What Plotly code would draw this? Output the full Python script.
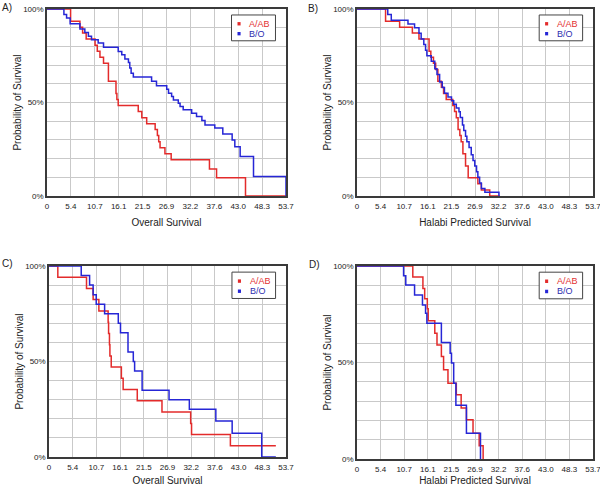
import plotly.graph_objects as go

# ---------------- data ----------------
series_names = ["A/AB", "B/O"]
panel_labels = ["A)", "B)", "C)", "D)"]
x_titles = ["Overall Survival", "Halabi Predicted Survival", "Overall Survival", "Halabi Predicted Survival"]
y_title = "Probability of Survival"
x_tick_vals = [0, 5.37, 10.74, 16.11, 21.48, 26.85, 32.22, 37.59, 42.96, 48.33, 53.7]
x_tick_text = ["0", "5.4", "10.7", "16.1", "21.5", "26.9", "32.2", "37.6", "43.0", "48.3", "53.7"]
y_tick_vals = [0, 10, 20, 30, 40, 50, 60, 70, 80, 90, 100]
y_tick_text = ["0%", "", "", "", "", "50%", "", "", "", "", "100%"]

# Panel A: overall survival
A_red_t = [0, 5.3, 7.4, 8.0, 8.8, 10.8, 11.3, 11.9, 12.7, 13.8, 15.5, 15.7, 16.0, 20.5, 21.3,
           22.4, 24.3, 24.8, 25.1, 25.4, 26.5, 27.9, 36.5, 38.1, 44.6, 53.7]
A_red_s = [100, 93.5, 90.3, 87.1, 83.9, 80.6, 77.4, 74.2, 71.0, 61.3, 54.8, 51.6, 48.4, 45.2, 41.9,
           38.7, 35.5, 32.3, 29.0, 25.8, 22.6, 19.4, 14.5, 9.7, 0, 0]
A_blue_t = [0, 3.8, 4.4, 5.2, 7.4, 8.5, 9.3, 10.0, 11.5, 12.7, 16.0, 16.8, 17.5, 18.3, 18.6, 18.9,
            19.4, 23.5, 24.6, 26.9, 27.3, 28.0, 28.4, 29.5, 29.9, 30.6, 32.5, 33.6, 34.8, 35.5,
            37.7, 39.5, 41.6, 42.2, 43.4, 46.4, 53.7]
A_blue_s = [100, 97.0, 95.2, 92.1, 89.3, 87.5, 85.4, 83.6, 81.8, 79.6, 77.3, 75.5, 73.2, 71.4, 68.4, 65.7,
            63.6, 61.3, 58.9, 57.1, 55.0, 53.2, 51.4, 49.6, 47.9, 46.1, 44.3, 42.5, 40.4, 38.0,
            36.3, 33.2, 30.0, 26.4, 21.1, 10.4, 0]

# Panel B: Halabi predicted survival
B_red_t = [0, 6.5, 9.7, 12.6, 14.1, 16.4, 16.8, 17.4, 17.9, 18.4, 19.2, 19.7, 20.3, 21.8, 22.2,
           22.6, 23.0, 23.4, 23.7, 24.1, 24.7, 25.3, 27.5, 28.3, 30.2, 32.5]
B_red_s = [100, 93.5, 90.3, 87.1, 83.9, 77.4, 74.2, 71.0, 67.7, 61.3, 58.1, 54.8, 51.6, 48.4, 45.2,
           41.9, 35.5, 32.3, 29.0, 22.6, 16.1, 9.7, 6.5, 3.2, 0, 0]
B_blue_t = [0, 7.0, 7.8, 11.6, 13.1, 14.1, 14.6, 15.2, 15.6, 15.9, 16.9, 17.7, 18.2, 18.8, 19.4,
            19.9, 20.7, 21.5, 22.0, 22.6, 23.2, 23.5, 24.0, 24.3, 24.7, 25.0, 25.5, 26.0, 26.4,
            26.8, 27.2, 27.5, 27.9, 28.3, 29.1, 32.3]
B_blue_s = [100, 97, 94, 92, 90, 87, 84, 81, 78, 75, 72, 68, 65, 61, 58,
            55, 53, 51, 49, 47, 45, 42, 38, 35, 32, 29, 26, 22, 19,
            16, 13, 10, 7, 4, 2, 0]

# Panel C: overall survival
C_red_t = [0, 2.0, 8.5, 10.0, 11.3, 13.4, 13.5, 13.7, 13.8, 14.1, 16.4, 16.8, 20.0, 25.6, 32.1,
           32.3, 41.1, 51.4]
C_red_s = [100, 94.1, 88.2, 82.4, 76.5, 70.6, 64.7, 58.8, 52.9, 47.1, 41.2, 35.3, 29.4, 23.5, 17.6,
           11.8, 5.9, 5.9]
C_blue_t = [0, 7.3, 9.2, 10.0, 10.7, 12.6, 15.7, 16.2, 17.9, 19.1, 19.4, 21.1, 27.2, 31.8, 37.8,
            41.5, 48.2, 51.4]
C_blue_s = [100, 95.0, 90.0, 85.0, 80.0, 75.0, 70.0, 65.0, 55.0, 50.0, 45.0, 35.0, 30.0, 25.0, 18.8,
            12.5, 0, 0]

# Panel D: Halabi predicted survival
D_red_t = [0, 12.7, 15.0, 15.4, 16.0, 16.2, 17.7, 18.2, 19.2, 19.7, 20.7, 22.6, 23.7, 24.9, 26.4,
           27.8, 28.7]
D_red_s = [100, 94.3, 88.4, 83.0, 77.8, 71.6, 65.2, 59.1, 53.1, 46.2, 39.3, 33.3, 26.4, 20.3, 13.4,
           6.9, 0]
D_blue_t = [0, 10.6, 11.1, 13.1, 14.9, 15.6, 15.9, 19.2, 21.2, 21.5, 22.0, 22.5, 24.9, 28.1]
D_blue_s = [100, 95.0, 90.2, 85.0, 79.8, 75.5, 70.3, 60.3, 54.8, 49.7, 39.3, 27.8, 13.4, 0]

panels = [
    (A_red_t, A_red_s, A_blue_t, A_blue_s),
    (B_red_t, B_red_s, B_blue_t, B_blue_s),
    (C_red_t, C_red_s, C_blue_t, C_blue_s),
    (D_red_t, D_red_s, D_blue_t, D_blue_s),
]

# ---------------- style ----------------
W, H = 600, 486
RED = "#e32b2b"
BLUE = "#2626d6"
RED_TXT = "#e33030"
BLUE_TXT = "#2d2db0"
FONT = "Liberation Sans, Arial, sans-serif"
# plot areas in pixels: (left, right, top, bottom)
boxes = [(47, 286, 9, 196), (357, 593, 9, 196), (49, 286, 266, 457), (357, 593, 266, 459)]
label_pos = [(0, 0), (306, 1), (0, 256), (307, 257)]

fig = go.Figure()
layout = dict(
    width=W, height=H,
    margin=dict(l=0, r=0, t=0, b=0),
    paper_bgcolor="white", plot_bgcolor="white",
    showlegend=False,
    font=dict(family=FONT, color="#222"),
)
shapes = []
annotations = []

for i, (rt, rs, bt, bs) in enumerate(panels):
    n = "" if i == 0 else str(i + 1)
    xa, ya = "x" + n, "y" + n
    l, r, t, b = boxes[i]
    xdom = [l / W, r / W]
    ydom = [1 - b / H, 1 - t / H]
    fig.add_trace(go.Scatter(x=rt, y=rs, mode="lines", line=dict(color=RED, width=1.5, shape="hv"),
                             name=series_names[0], xaxis=xa, yaxis=ya))
    fig.add_trace(go.Scatter(x=bt, y=bs, mode="lines", line=dict(color=BLUE, width=1.5, shape="hv"),
                             name=series_names[1], xaxis=xa, yaxis=ya))
    layout["xaxis" + n] = dict(
        domain=xdom, anchor=ya, range=[0, 53.7], tickvals=x_tick_vals, ticktext=x_tick_text,
        showgrid=True, gridcolor="#c9c9c9", gridwidth=1, zeroline=False,
        showline=True, mirror=True, linecolor="#3a3a3a", linewidth=1.5,
        ticks="", tickfont=dict(size=8, color="#222"), layer="below traces",
        ticklabelstandoff=2, ticklabeloverflow="allow",
        title=dict(text=x_titles[i], font=dict(size=10, color="#222"), standoff=9),
        automargin=False, fixedrange=True,
    )
    layout["yaxis" + n] = dict(
        domain=ydom, anchor=xa, range=[0, 100], tickvals=y_tick_vals, ticktext=y_tick_text,
        showgrid=True, gridcolor="#c9c9c9", gridwidth=1, zeroline=False,
        showline=True, mirror=True, linecolor="#3a3a3a", linewidth=1.5,
        ticks="", tickfont=dict(size=8, color="#222"), layer="below traces",
        ticklabeloverflow="allow",
        title=dict(text=y_title, font=dict(size=10, color="#222"), standoff=0),
        automargin=False, fixedrange=True,
    )
    # legend box (manual, compact like the reference)
    xr, yr = xa + " domain", ya + " domain"
    shapes.append(dict(type="rect", xref=xr, yref=yr, x0=0.772, x1=0.956, y0=0.83, y1=0.968,
                       line=dict(color="#444", width=1), fillcolor="white", layer="above"))
    for j, (name, col, tcol, yy) in enumerate([(series_names[0], RED, RED_TXT, 0.921),
                                               (series_names[1], BLUE, BLUE_TXT, 0.868)]):
        shapes.append(dict(type="rect", xref=xr, yref=yr, x0=0.797, x1=0.81, y0=yy - 0.009, y1=yy + 0.009,
                           line=dict(width=0), fillcolor=col, layer="above"))
        annotations.append(dict(text=name, xref=xr, yref=yr, x=0.838, y=yy, xanchor="left", yanchor="middle",
                                showarrow=False, font=dict(size=9, color=tcol, family=FONT)))
    lx, ly = label_pos[i]
    annotations.append(dict(text=panel_labels[i], xref="paper", yref="paper", x=lx / W, y=1 - ly / H,
                            xanchor="left", yanchor="top", showarrow=False,
                            font=dict(size=10, color="#222", family=FONT)))

layout["shapes"] = shapes
layout["annotations"] = annotations
fig.update_layout(**layout)
fig.write_html("out.html",
               config={"displayModeBar": False},
               post_script="document.body.style.margin='0';document.body.style.padding='0';"
                           "document.documentElement.style.overflow='hidden';")
